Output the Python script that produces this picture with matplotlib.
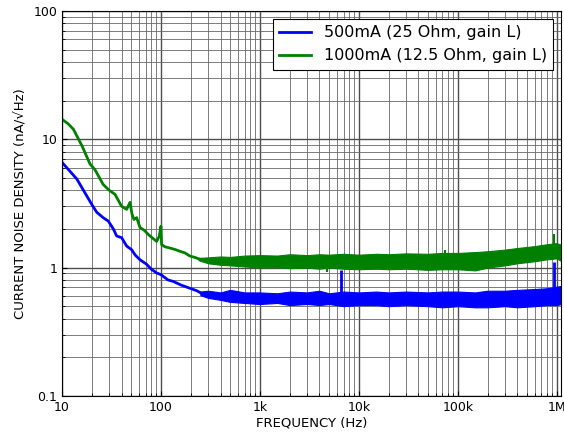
"""Current noise density of the driver at two current ranges."""

import matplotlib

matplotlib.use("Agg")
import matplotlib.pyplot as plt

# low-frequency trace (single line)
blue_lo_f = [10, 14.1, 20, 22.4, 26, 29.4, 33, 35.7, 40, 45, 50.4, 55, 61.4,
             71.7, 80, 90, 100, 118, 133, 160, 196, 230, 267]
blue_lo_v = [6.6, 4.9, 3.1, 2.7, 2.45, 2.3, 2.0, 1.76, 1.71, 1.47, 1.38, 1.25,
             1.15, 1.06, 0.97, 0.91, 0.88, 0.8, 0.78, 0.73, 0.69, 0.66, 0.62]
green_lo_f = [10, 11.5, 13, 16, 19.2, 21.5, 26, 30, 34.3, 40, 45, 48.6, 51, 53.3,
              56.8, 61.4, 68, 74.5, 82, 90.4, 96, 100, 101.5, 110, 123, 140,
              155, 175, 196, 220, 248]
green_lo_v = [14.3, 13.2, 12.0, 8.8, 6.4, 5.8, 4.45, 4.0, 3.72, 3.0, 2.84, 3.22,
              2.6, 2.37, 2.45, 2.05, 1.95, 1.81, 1.7, 1.6, 1.75, 2.1, 1.51, 1.45,
              1.42, 1.38, 1.34, 1.3, 1.23, 1.2, 1.16]

# noisy region: min/max envelope of the trace
blue_band_f = [250, 300, 400, 500, 700, 1e3, 1.5e3, 2e3, 3e3, 4e3, 5e3, 7e3,
               1e4, 1.5e4, 2e4, 3e4, 5e4, 7e4, 1e5, 1.5e5, 2e5, 3e5, 4e5,
               6e5, 8e5, 1e6, 1.12e6]
blue_band_lo = [0.61, 0.58, 0.56, 0.54, 0.53, 0.52, 0.53, 0.51, 0.52, 0.51,
                0.52, 0.50, 0.51, 0.51, 0.50, 0.51, 0.50, 0.49, 0.50, 0.49,
                0.49, 0.50, 0.49, 0.50, 0.51, 0.51, 0.52]
blue_band_hi = [0.65, 0.66, 0.64, 0.67, 0.64, 0.64, 0.63, 0.65, 0.64, 0.66,
                0.63, 0.65, 0.64, 0.65, 0.64, 0.65, 0.64, 0.65, 0.65, 0.64,
                0.66, 0.66, 0.67, 0.68, 0.69, 0.71, 0.72]
green_band_f = [240, 300, 400, 500, 700, 1e3, 1.5e3, 2e3, 3e3, 4e3, 5e3, 7e3,
                1e4, 1.5e4, 2e4, 3e4, 5e4, 7e4, 1e5, 1.5e5, 2e5, 3e5, 4e5,
                6e5, 8e5, 1e6, 1.12e6]
green_band_lo = [1.14, 1.08, 1.05, 1.04, 1.02, 1.0, 1.01, 0.99, 1.0, 0.98,
                 1.0, 0.98, 0.97, 0.98, 0.97, 0.98, 0.96, 0.97, 0.97, 0.95,
                 1.0, 1.04, 1.08, 1.12, 1.16, 1.18, 1.12]
green_band_hi = [1.19, 1.2, 1.22, 1.21, 1.24, 1.25, 1.24, 1.27, 1.25, 1.27,
                 1.26, 1.28, 1.26, 1.28, 1.27, 1.29, 1.28, 1.3, 1.3, 1.32,
                 1.34, 1.38, 1.42, 1.47, 1.52, 1.55, 1.5]

# isolated spurs
blue_spur_f = [6.6e3, 9.5e5]
blue_spur_lo = [0.6, 0.62]
blue_spur_hi = [0.96, 1.1]
green_spur_f = [4.8e3, 7.5e4, 9.5e5]
green_spur_lo = [0.93, 1.1, 1.4]
green_spur_hi = [1.1, 1.36, 1.84]

xticks = [10, 100, 1e3, 1e4, 1e5, 1e6]
xticklabels = ["10", "100", "1k", "10k", "100k", "1M"]
yticks = [0.1, 1, 10, 100]
yticklabels = ["0.1", "1", "10", "100"]

BLUE = "#0000ff"
GREEN = "#008000"

fig = plt.figure(figsize=(5.64, 4.36), dpi=100)
ax = fig.add_axes([0.110, 0.092, 0.885, 0.883])

ax.plot(blue_lo_f, blue_lo_v, color=BLUE, lw=2, label="500mA (25 Ohm, gain L)")
ax.plot(green_lo_f, green_lo_v, color=GREEN, lw=2,
        label="1000mA (12.5 Ohm, gain L)")
ax.fill_between(blue_band_f, blue_band_lo, blue_band_hi, color=BLUE, lw=0.8)
ax.fill_between(green_band_f, green_band_lo, green_band_hi, color=GREEN, lw=0.8)
ax.vlines(blue_spur_f, blue_spur_lo, blue_spur_hi, color=BLUE, lw=2)
ax.vlines(green_spur_f, green_spur_lo, green_spur_hi, color=GREEN, lw=1.5)

ax.set_xscale("log")
ax.set_yscale("log")
ax.set_xlim(10, 1.11e6)
ax.set_ylim(0.1, 100)
ax.set_xticks(xticks, xticklabels)
ax.set_yticks(yticks, yticklabels)
ax.tick_params(which="both", direction="in", labelsize=9)
ax.grid(which="major", color="0.3", lw=1.0)
ax.grid(which="minor", color="0.4", lw=0.6)
ax.set_axisbelow(True)

ax.set_xlabel("FREQUENCY (Hz)", fontsize=9.5, labelpad=2)
ax.set_ylabel("CURRENT NOISE DENSITY (nA/\u221aHz)", fontsize=9.5)

leg = ax.legend(loc="upper right", fontsize=11.5, fancybox=False,
                framealpha=1, edgecolor="black")
leg.get_frame().set_linewidth(0.8)

fig.savefig("out.png", dpi=100)
